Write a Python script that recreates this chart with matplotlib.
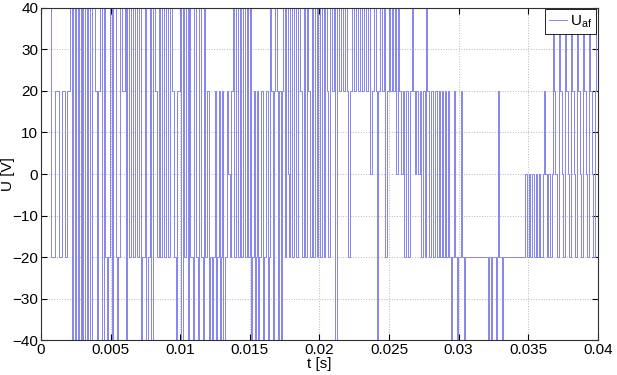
import matplotlib.pyplot as plt
import numpy as np

plt.rcParams['font.family'] = ['Liberation Sans', 'DejaVu Sans']

# switching instants [ms] and the voltage level held after each one [V]
t_ms = [0.00, 0.75, 1.01, 1.26, 1.51, 1.72, 1.90, 2.08, 2.19, 2.30, 2.41, 2.51, 2.62, 2.73, 2.84, 2.94,
        3.05, 3.16, 3.27, 3.37, 3.52, 3.63, 3.88, 4.02, 4.09, 4.24, 4.38, 4.49, 4.63, 4.74, 4.81, 4.95,
        5.10, 5.17, 5.35, 5.46, 5.53, 5.67, 5.82, 6.00, 6.10, 6.21, 6.32, 6.46, 6.61, 6.75, 6.89, 7.07,
        7.18, 7.25, 7.47, 7.57, 7.65, 7.83, 7.93, 8.04, 8.19, 8.33, 8.44, 8.54, 8.69, 8.83, 8.98, 9.12,
        9.26, 9.41, 9.55, 9.69, 9.80, 9.98, 10.09, 10.20, 10.30, 10.41, 10.55, 10.63, 10.73, 10.91, 10.99, 11.13,
        11.27, 11.34, 11.49, 11.63, 11.70, 11.81, 11.92, 12.03, 12.13, 12.28, 12.35, 12.49, 12.57, 12.64, 12.78, 12.85,
        12.92, 13.03, 13.10, 13.21, 13.35, 13.43, 13.57, 13.68, 13.79, 13.89, 14.04, 14.14, 14.29, 14.40, 14.50, 14.65,
        14.76, 14.86, 15.01, 15.08, 15.15, 15.29, 15.37, 15.44, 15.54, 15.62, 15.69, 15.80, 15.94, 16.01, 16.16, 16.30,
        16.37, 16.44, 16.55, 16.66, 16.73, 16.84, 16.94, 17.05, 17.12, 17.23, 17.30, 17.41, 17.52, 17.63, 17.73, 17.81,
        17.88, 18.02, 18.17, 18.31, 18.45, 18.60, 18.74, 18.88, 18.99, 19.10, 19.21, 19.31, 19.46, 19.57, 19.67, 19.82,
        19.92, 20.03, 20.18, 20.32, 20.43, 20.53, 20.64, 20.75, 20.89, 21.04, 21.15, 21.25, 21.40, 21.54, 21.68, 21.83,
        21.97, 22.08, 22.19, 22.33, 22.47, 22.62, 22.76, 22.90, 23.05, 23.19, 23.34, 23.48, 23.62, 23.77, 23.91, 24.05,
        24.16, 24.23, 24.34, 24.48, 24.63, 24.74, 24.84, 24.99, 25.09, 25.20, 25.31, 25.42, 25.52, 25.63, 25.70, 25.85,
        25.99, 26.10, 26.21, 26.35, 26.49, 26.64, 26.75, 26.85, 26.96, 27.07, 27.21, 27.32, 27.43, 27.57, 27.68, 27.75,
        27.86, 28.00, 28.15, 28.29, 28.43, 28.58, 28.68, 28.79, 28.90, 29.01, 29.12, 29.22, 29.33, 29.44, 29.51, 29.65,
        29.76, 29.90, 29.98, 30.16, 30.26, 30.41, 30.48, 32.09, 32.17, 32.35, 32.42, 32.67, 32.74, 32.81, 32.88, 33.14,
        33.21, 34.75, 34.89, 35.04, 35.15, 35.29, 35.40, 35.54, 35.65, 35.76, 35.86, 36.04, 36.15, 36.22, 36.33, 36.44,
        36.58, 36.69, 36.76, 36.83, 36.94, 37.05, 37.19, 37.30, 37.41, 37.52, 37.62, 37.73, 37.84, 37.95, 38.05, 38.16,
        38.27, 38.38, 38.48, 38.59, 38.70, 38.81, 38.92, 39.02, 39.13, 39.24, 39.35, 39.45, 39.56, 39.67, 39.78, 39.89,
        40.00]
u_af = [40, -20, 20, -20, 20, -20, 20, 40, -40, 40, -40, 40, -40, 40, -40, 40,
        -40, 40, -40, 40, -40, 40, 20, -40, 20, 40, -40, 40, -20, -40, -20, 40,
        -40, 40, -20, -40, -20, 40, 20, 40, -40, 40, -20, 40, -20, 40, -20, 40,
        -40, -20, 40, -40, -20, 40, -40, 40, 20, -20, 40, -20, 40, -20, 40, -20,
        40, 20, -20, -40, 20, 40, -40, 40, -20, 40, -40, 40, -20, -40, 40, -20,
        -40, 40, -20, -40, 40, -20, 20, -40, -20, -40, -20, 20, -40, -20, 20, -40,
        -20, 20, -40, -20, 20, 0, -20, 20, 40, -20, 40, -20, 40, -20, 40, -20,
        40, -20, 40, -40, -20, 20, -40, -20, 20, -40, -20, 20, -40, -20, 20, -40,
        -20, 40, 20, -40, 20, 40, 20, -40, 20, -40, 20, 40, -20, 40, 0, -20,
        40, -20, 40, -20, 40, 20, -20, 40, -20, 40, 20, -20, 40, -20, 40, -20,
        40, -20, 40, -20, 40, 20, -20, 40, 20, 40, -40, 40, 20, 40, 20, 40,
        20, -20, 20, 40, 20, 40, 20, 40, 20, 40, 20, 40, 0, 20, 40, 20,
        -40, 20, 40, 20, 40, -20, 20, 40, 20, 40, 20, 40, 0, 40, 20, 0,
        20, -20, 20, -20, 20, 40, 20, 0, 20, 0, 20, -20, 20, -20, 40, 20,
        -20, 20, -20, 20, -20, 20, -20, 20, -20, 20, -20, 20, -20, -40, -20, 20,
        -20, -40, -20, 20, -20, -40, -20, -40, -20, -40, -20, -40, -20, 20, -20, -40,
        -20, 0, -20, 0, -20, 0, -20, 0, -20, 0, -20, 0, 20, 0, -20, 0,
        -20, 0, 40, 20, 0, -20, 40, 20, 0, -20, 40, 20, 0, -20, 40, 20,
        0, -20, 40, 20, 0, -20, 40, 20, 0, -20, 40, 20, 0, -20, 20, 40,
        40]

t = np.array(t_ms) / 1000.0

fig = plt.figure(figsize=(6.17, 3.75), dpi=100)
ax = fig.add_axes([0.0665, 0.093, 0.9025, 0.886])

ax.step(t, u_af, where='post', color='#8585ee', lw=0.7, label=r'U$_{\mathregular{af}}$')

ax.set_xlim(0, 0.04)
ax.set_ylim(-40, 40)
ax.set_xticks([0, 0.005, 0.01, 0.015, 0.02, 0.025, 0.03, 0.035, 0.04])
ax.set_xticklabels(['0', '0.005', '0.01', '0.015', '0.02', '0.025', '0.03', '0.035', '0.04'])
ax.set_yticks(range(-40, 41, 10))
ax.tick_params(direction='in', labelsize=11, length=4, top=True, right=True, pad=2)
ax.grid(True, color='#b8b8b8', linestyle=':', linewidth=0.7)
for s in ax.spines.values():
    s.set_color('#303030')
    s.set_linewidth(0.8)

ax.set_xlabel('t [s]', fontsize=11, labelpad=0)
ax.set_ylabel('U [V]', fontsize=11)
ax.yaxis.set_label_coords(-0.046, 0.5)

leg = ax.legend(loc='upper right', fontsize=11, fancybox=False, framealpha=1,
                edgecolor='black', borderpad=0.25, handlelength=1.2, handletextpad=0.2,
                borderaxespad=0.1)
leg.get_frame().set_linewidth(0.6)

fig.savefig('out.png', dpi=100)
